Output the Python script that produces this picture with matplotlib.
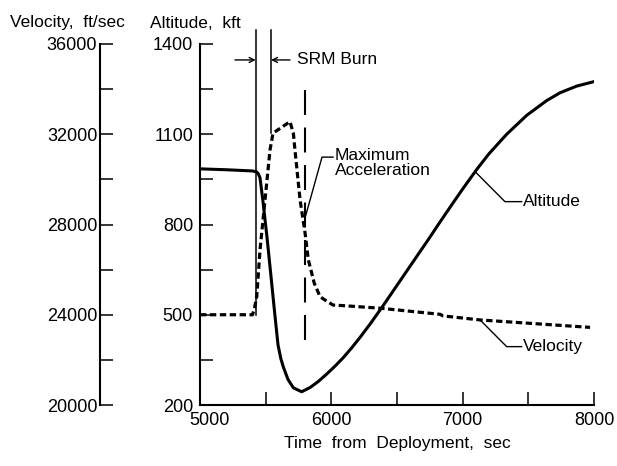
import matplotlib
matplotlib.use("Agg")
import matplotlib.pyplot as plt
import matplotlib.transforms as mtransforms

plt.rcParams['font.family'] = ['Liberation Sans', 'DejaVu Sans']

# ---- data ----
alt_t = [5000, 5200, 5400, 5430, 5445, 5457, 5480, 5510, 5540, 5570, 5594, 5615,
         5634, 5670, 5711, 5774, 5838, 5900, 5965, 6030, 6092, 6155, 6219, 6300,
         6394, 6480, 6574, 6660, 6751, 6830, 6916, 7000, 7107, 7200, 7335, 7488,
         7640, 7742, 7868, 8000]
alt_kft = [985, 982, 978, 975, 968, 955, 875, 758, 630, 500, 400, 355,
           327, 285, 257, 244, 258, 278, 303, 330, 358, 390, 425, 472,
           530, 585, 645, 700, 758, 810, 865, 918, 983, 1035, 1100, 1163,
           1212, 1238, 1260, 1275]

vel_t = [5000, 5400, 5415, 5432, 5457, 5495, 5533, 5556, 5620, 5685, 5711, 5723,
         5762, 5800, 5825, 5870, 5914, 5965, 6013, 6100, 6371, 6828, 6850, 7132, 7970]
vel_fps = [24000, 24000, 24300, 24800, 26870, 29090, 31300, 32050, 32300, 32560, 32040, 31300,
           29090, 27620, 26430, 25400, 24800, 24600, 24430, 24400, 24290, 24020, 23950, 23770, 23440]

x_ticks = [5000, 6000, 7000, 8000]
x_minor = [5500, 6500, 7500]
alt_ticks = [200, 500, 800, 1100, 1400]
alt_minor = [350, 650, 950, 1250]
vel_ticks = [20000, 24000, 28000, 32000, 36000]
vel_minor = [22000, 26000, 30000, 34000]

srm_start, srm_end = 5424, 5541
max_acc_t = 5800

FS = 12.5
TFS = 13

fig = plt.figure(figsize=(6.17, 4.66), dpi=100)
ax = fig.add_axes([200/617, 1-405/466, 394/617, 361/466])
ax2 = ax.twinx()
ax2.set_position(ax.get_position())

ax.set_xlim(5000, 8000)
ax.set_ylim(200, 1400)
ax2.set_ylim(20000, 36000)

for s in ['top', 'right']:
    ax.spines[s].set_visible(False)
for s in ['top', 'right', 'bottom']:
    ax2.spines[s].set_visible(False)
ax.spines['left'].set_linewidth(1.5)
ax.spines['bottom'].set_linewidth(1.5)
ax2.spines['left'].set_visible(True)
ax2.spines['left'].set_linewidth(1.5)
ax2.spines['left'].set_position(('outward', 72))
ax2.yaxis.tick_left()
ax2.yaxis.set_label_position('left')

ax.set_xticks(x_ticks)
ax.set_xticks(x_minor, minor=True)
ax.set_yticks(alt_ticks)
ax.set_yticks(alt_minor, minor=True)
ax2.set_yticks(vel_ticks)
ax2.set_yticks(vel_minor, minor=True)
ax.set_xticklabels([str(v) for v in x_ticks])
ax.set_yticklabels([str(v) for v in alt_ticks])
ax2.set_yticklabels([str(v) for v in vel_ticks])

ax.tick_params(which='both', direction='in', length=9.5, width=1.1, labelsize=TFS)
ax.tick_params(axis='x', pad=5)
ax.tick_params(axis='y', pad=5)
ax2.tick_params(which='both', direction='in', length=9.5, width=1.1, labelsize=TFS, pad=2,
                left=True, right=False, labelleft=True, labelright=False)

# shift the 5000 label right
lbl = ax.get_xticklabels()[0]
lbl.set_transform(lbl.get_transform() + mtransforms.ScaledTranslation(10/100, 0, fig.dpi_scale_trans))

# curves
ax.plot(alt_t, alt_kft, color='black', lw=2.2, solid_capstyle='round',
        solid_joinstyle='round', zorder=3)
ax2.plot(vel_t, vel_fps, color='black', lw=2.3, linestyle=(0, (2.0, 1.1)), zorder=3)

# SRM burn lines
ax.plot([srm_start, srm_start], [500, 1447], color='black', lw=1.1, clip_on=False)
ax.plot([srm_end, srm_end], [1104, 1447], color='black', lw=1.1, clip_on=False)
ax.annotate('', xy=(srm_start, 1347), xytext=(5266, 1347),
            arrowprops=dict(arrowstyle='->', lw=1.0, color='black', shrinkA=0, shrinkB=0,
                            mutation_scale=9), annotation_clip=False)
ax.annotate('', xy=(srm_end, 1347), xytext=(5685, 1347),
            arrowprops=dict(arrowstyle='->', lw=1.0, color='black', shrinkA=0, shrinkB=0,
                            mutation_scale=9), annotation_clip=False)
ax.text(5739, 1347, 'SRM Burn', fontsize=FS, va='center', ha='left')

# Maximum acceleration
ax.plot([max_acc_t, max_acc_t], [416, 1247], color='black', lw=1.5, linestyle=(0, (12, 6)))
ax.plot([5800, 5929, 6013], [822, 1024, 1024], color='black', lw=1.0)
ax.text(6028, 1003, 'Maximum\nAcceleration', fontsize=FS, va='center', ha='left', linespacing=1.0)

# Altitude label
ax.plot([7094, 7322, 7449], [976, 876, 876], color='black', lw=1.0)
ax.text(7460, 876, 'Altitude', fontsize=FS, va='center', ha='left')

# Velocity label
ax.plot([7132, 7335, 7449], [483, 394, 394], color='black', lw=1.0)
ax.text(7460, 394, 'Velocity', fontsize=FS, va='center', ha='left')

# axis titles
fig.text(10/617, 1-23/466, 'Velocity,  ft/sec', fontsize=FS, va='center', ha='left')
fig.text(150/617, 1-23/466, 'Altitude,  kft', fontsize=FS, va='center', ha='left')
ax.set_xlabel('Time  from  Deployment,  sec', fontsize=FS, labelpad=5)

fig.savefig('out.png', dpi=100)
